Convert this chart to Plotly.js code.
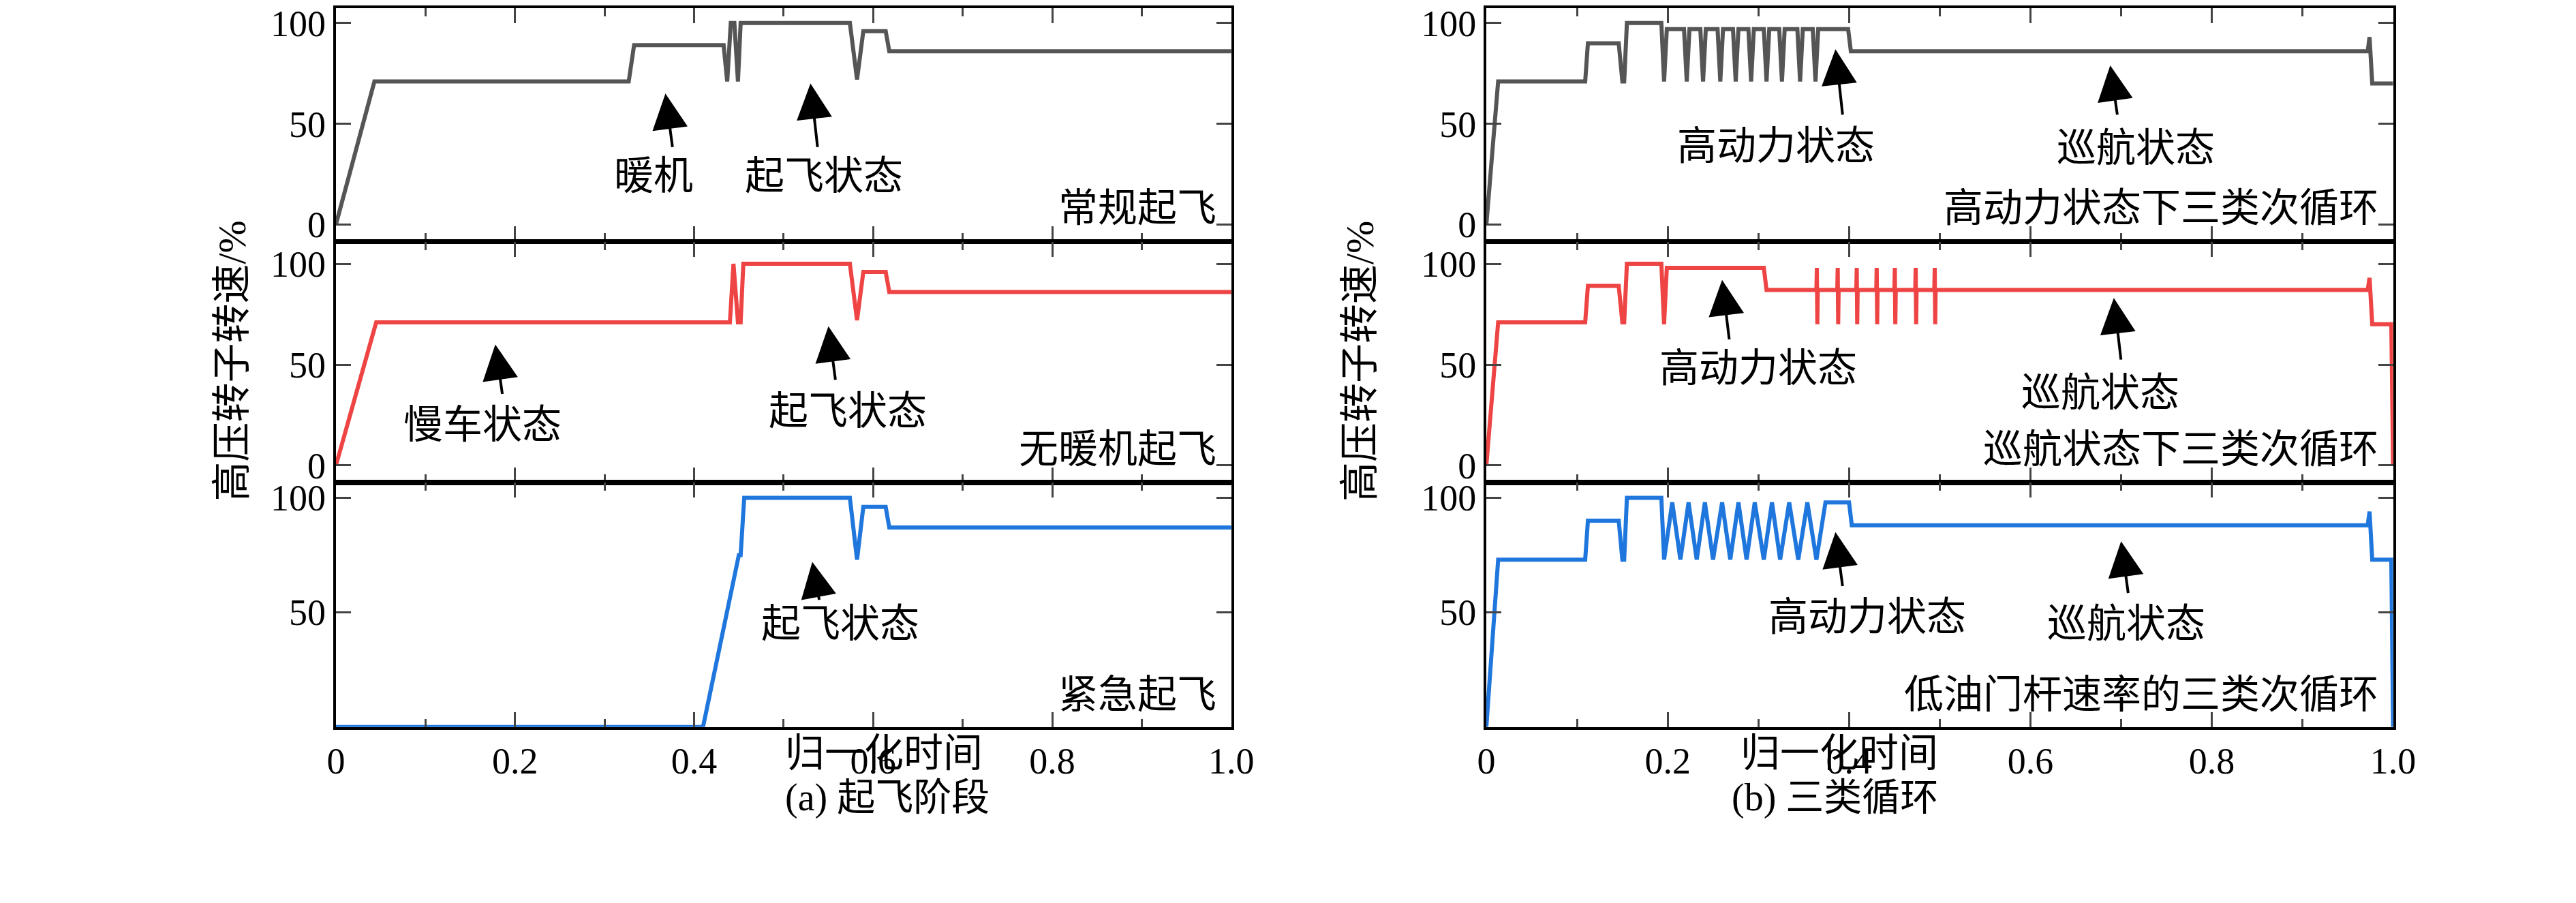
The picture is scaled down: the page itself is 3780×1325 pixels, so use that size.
<!DOCTYPE html><html><head><meta charset="utf-8"><script src="https://cdn.plot.ly/plotly-3.0.1.min.js"></script>
<style>body{margin:0;background:#fff}</style></head><body><div id="g" style="width:3780px;height:1325px"></div><script>
// (a) take-off phase
const aNormX=[0,0.043,0.327,0.333,0.433,0.437,0.441,0.445,0.449,0.452,0.574,0.582,0.589,0.614,0.618,1.0];
const aNormY=[0,71,71,89,89,71,100,100,71,100,100,72,96,96,86,86];
const aNoWarmX=[0,0.045,0.44,0.444,0.449,0.452,0.455,0.574,0.582,0.589,0.614,0.618,1.0];
const aNoWarmY=[0,71,71,100,71,71,100,100,72,96,96,86,86];
const aEmergX=[0,0.41,0.45,0.452,0.456,0.574,0.582,0.589,0.614,0.618,1.0];
const aEmergY=[0,0,75,75,100,100,73,96,96,87,87];
// (b) three cycle types
const bHighX=[0,0.013,0.109,0.112,0.146,0.150,0.152,0.155,0.193,0.196,0.199,0.218,0.221,0.224,0.236,0.239,0.242,0.255,0.258,0.261,0.272,0.275,0.278,0.289,0.292,0.295,0.306,0.309,0.312,0.323,0.326,0.329,0.343,0.346,0.349,0.360,0.363,0.366,0.399,0.402,0.972,0.974,0.977,1.0];
const bHighY=[0,71,71,90,90,71,71,100,100,71,97,97,71,97,97,71,97,97,71,97,97,71,97,97,71,97,97,71,97,97,71,97,97,71,97,97,71,97,97,86,86,93,70,70];
const bCruiseX=[0,0.013,0.109,0.112,0.146,0.150,0.152,0.155,0.193,0.196,0.199,0.306,0.309,0.364,0.3645,0.365,0.3655,0.387,0.3875,0.388,0.3885,0.408,0.4085,0.409,0.4095,0.430,0.4305,0.431,0.4315,0.450,0.4505,0.451,0.4515,0.473,0.4735,0.474,0.4745,0.494,0.4945,0.495,0.4955,0.972,0.974,0.977,0.998,1.0];
const bCruiseY=[0,71,71,89,89,71,71,100,100,70,98,98,87,87,98,70,87,87,98,70,87,87,98,70,87,87,98,70,87,87,98,70,87,87,98,70,87,87,98,70,87,87,93,70,70,0];
const bLowX=[0,0.013,0.109,0.112,0.146,0.150,0.152,0.155,0.193,0.196,0.205,0.214,0.223,0.232,0.241,0.250,0.260,0.269,0.278,0.287,0.296,0.306,0.315,0.324,0.334,0.344,0.354,0.364,0.374,0.400,0.403,0.972,0.974,0.977,0.998,1.0];
const bLowY=[0,73,73,90,90,73,73,100,100,73,98,73,98,73,98,73,98,73,98,73,98,73,98,73,98,73,98,73,98,98,88,88,94,73,73,0];
const xTickVals=[0,0.2,0.4,0.6,0.8,1.0];
const xTickText=['0','0.2','0.4','0.6','0.8','1.0'];

const gray='#555555', red='#ee4444', blue='#1f77dd';
const F='Liberation Serif, "Noto Sans CJK SC", serif';
const traces=[
 [aNormX,aNormY,gray,'x','y'],[aNoWarmX,aNoWarmY,red,'x2','y2'],[aEmergX,aEmergY,blue,'x3','y3'],
 [bHighX,bHighY,gray,'x4','y4'],[bCruiseX,bCruiseY,red,'x5','y5'],[bLowX,bLowY,blue,'x6','y6']
].map(t=>({x:t[0],y:t[1],type:'scatter',mode:'lines',line:{color:t[2],width:6},xaxis:t[3],yaxis:t[4],hoverinfo:'none'}));

const xd=[[0.1304,0.478],[0.577,0.929]];
const yd=[[0.733,0.991],[0.466,0.732],[0.195,0.466]];
const yr=[[-8.2,107.4],[-8.3,110.8],[0,106.8]];
const layout={width:3780,height:1325,margin:{l:0,r:0,t:0,b:0},showlegend:false,paper_bgcolor:'#fff',plot_bgcolor:'#fff',font:{family:F,size:54,color:'#000'},annotations:[],shapes:[]};
for(let i=0;i<6;i++){
 const c=Math.floor(i/3), r=i%3, n=i===0?'':String(i+1);
 layout['xaxis'+n]={domain:xd[c],range:[0,1],anchor:'y'+n,showline:true,linewidth:4,linecolor:'#000',mirror:'ticks',ticks:'inside',ticklen:22,tickwidth:3,
  tickvals:xTickVals,ticktext:xTickText,showticklabels:r===2,showgrid:false,zeroline:false,
  minor:{dtick:0.1,ticks:'inside',ticklen:12,tickwidth:3},tickfont:{size:54,family:F}};
 layout['yaxis'+n]={domain:yd[r],range:yr[r],anchor:'x'+n,showline:true,linewidth:4,linecolor:'#000',mirror:'ticks',ticks:'inside',ticklen:22,tickwidth:3,
  tickvals:r===2?[50,100]:[0,50,100],showgrid:false,zeroline:false,tickfont:{size:54,family:F}};
}
const labels=[
 ['', '暖机',0.355,24,0.368,65,38],['', '起飞状态',0.545,24,0.53,70,38],
 ['2','慢车状态',0.164,20,0.178,60,35],['2','起飞状态',0.572,27,0.55,69,42],
 ['3','起飞状态',0.563,45,0.532,72,55],
 ['4','高动力状态',0.319,39,0.385,87,54],['4','巡航状态',0.716,38,0.688,79,54],
 ['5','高动力状态',0.30,48,0.26,92,62],['5','巡航状态',0.677,36,0.692,83,52],
 ['6','高动力状态',0.42,48,0.385,85,61],['6','巡航状态',0.706,45,0.70,81,58]
];
labels.forEach(l=>{
 const xa='x'+l[0], ya='y'+l[0];
 layout.annotations.push({xref:xa,yref:ya,x:l[2],y:l[3],text:l[1],showarrow:false,font:{size:58,family:F}});
 layout.annotations.push({xref:xa,yref:ya,x:l[4],y:l[5],ax:l[4]+0.008,ay:l[6],axref:xa,ayref:ya,text:'',showarrow:true,arrowhead:2,arrowsize:2.6,arrowwidth:4,arrowcolor:'#000'});
});
const corner=[['','常规起飞',8],['2','无暖机起飞',8],['3','紧急起飞',14],['4','高动力状态下三类次循环',8],['5','巡航状态下三类次循环',8],['6','低油门杆速率的三类次循环',14]];
corner.forEach(c=>layout.annotations.push({xref:'x'+c[0],yref:'y'+c[0],x:0.985,y:c[2],xanchor:'right',text:c[1],showarrow:false,font:{size:58,family:F}}));
[0,1].forEach(k=>{
 const cx=(xd[k][0]+xd[k][1])/2;
 layout.annotations.push({xref:'paper',yref:'paper',x:cx,y:1-1140/1325,text:'归一化时间',showarrow:false,font:{size:58,family:F}});
 layout.annotations.push({xref:'paper',yref:'paper',x:cx,y:1-1204/1325,text:k?'(b) 三类循环':'(a) 起飞阶段',showarrow:false,font:{size:56,family:F}});
});
[305/3780,1995/3780].forEach(p=>layout.annotations.push({xref:'paper',yref:'paper',x:p,y:0.6,text:'高压转子转速/%',textangle:-90,showarrow:false,font:{size:58,family:F}}));
Plotly.newPlot('g',traces,layout,{staticPlot:true});
</script></body></html>
